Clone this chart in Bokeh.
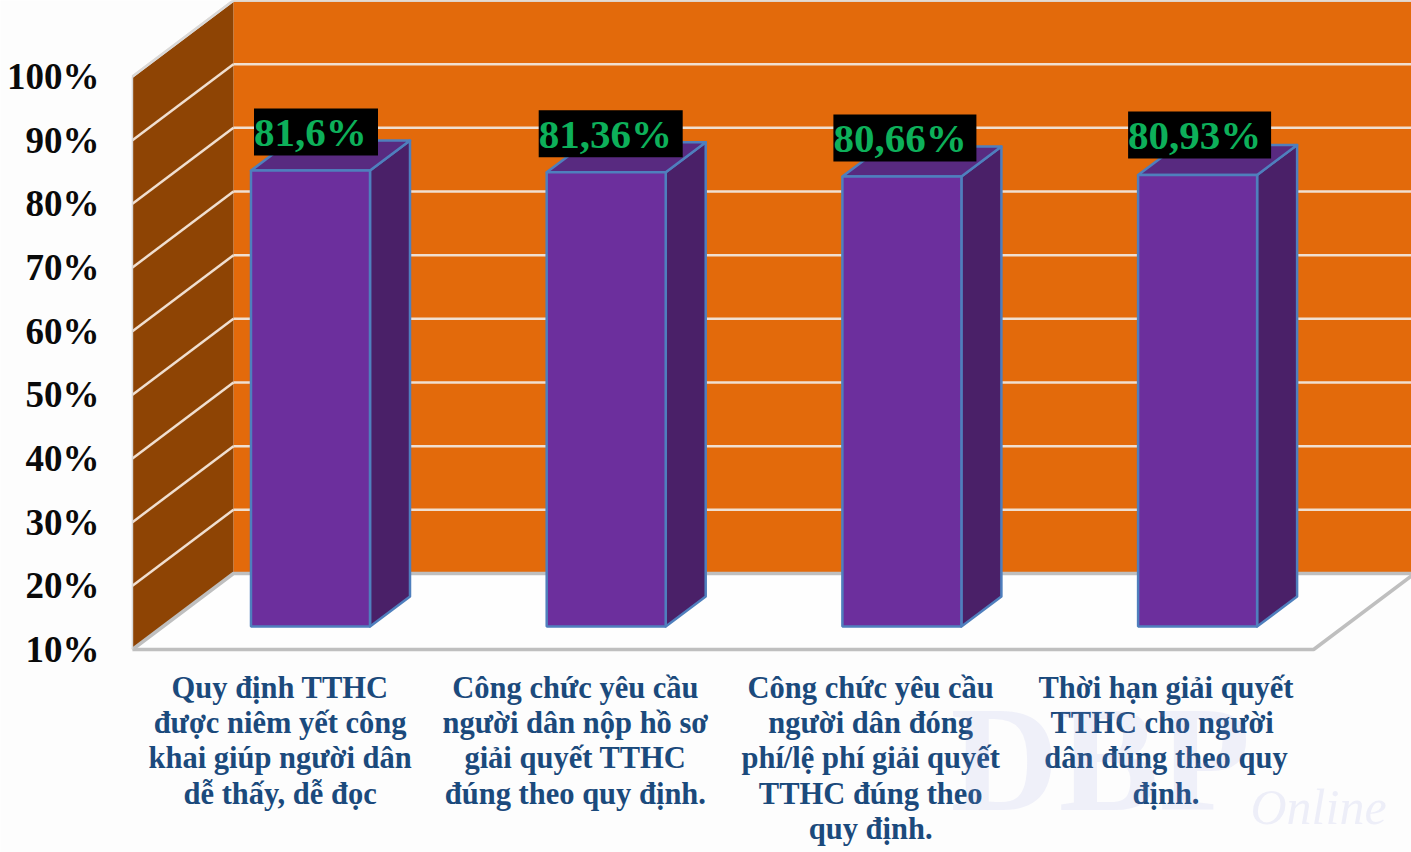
from bokeh.plotting import figure
from bokeh.models import FixedTicker, PrintfTickFormatter, Range1d
from bokeh.core.properties import value
from bokeh.embed import file_html
from bokeh.resources import INLINE

# ---- data
categories = [
    "Quy định TTHC\nđược niêm yết công\nkhai giúp người dân\ndễ thấy, dễ đọc",
    "Công chức yêu cầu\nngười dân nộp hồ sơ\ngiải quyết TTHC\nđúng theo quy định.",
    "Công chức yêu cầu\nngười dân đóng\nphí/lệ phí giải quyết\nTTHC đúng theo\nquy định.",
    "Thời hạn giải quyết\nTTHC  cho người\ndân đúng theo quy\nđịnh.",
]
values = [81.6, 81.36, 80.66, 80.93]
value_labels = ["81,6%", "81,36%", "80,66%", "80,93%"]
y_ticks = [10, 20, 30, 40, 50, 60, 70, 80, 90, 100]

# ---- layout (pixels of the picture)
W, H = 1411, 852
AXIS_L, AXIS_B = 104, 655
PX_PER_CAT = 295.3
CAT0_PX = 279.6
PX_PER_PCT = 6.367
Y10_PX = 649

def xd(px):
    return (px - CAT0_PX) / PX_PER_CAT

def yd(px):
    return 10 + (Y10_PX - px) / PX_PER_PCT

dx_wall = 101 / PX_PER_CAT
dy_wall = 76 / PX_PER_PCT
dy_bar = 23 / PX_PER_PCT
dx_side = 40 / PX_PER_CAT
dy_side = 30 / PX_PER_PCT
bar_half = 59.5 / PX_PER_CAT
bar_shift = 30.4 / PX_PER_CAT
bar_step = 0.4 / PX_PER_CAT
n = len(categories)
x_left = -0.5
x_right = n - 0.5

SERIF = "Liberation Serif"

p = figure(output_backend="svg", toolbar_location=None,
           frame_width=W, frame_height=H,
           x_range=Range1d(xd(0), xd(W)), y_range=Range1d(yd(H), yd(0)),
           min_border_left=0, min_border_right=0, min_border_top=0,
           min_border_bottom=0, margin=(0, 0, 0, 0),
           background_fill_color="#fdfdfd", border_fill_color="#fdfdfd",
           outline_line_color=None)
p.grid.visible = False

# walls and floor
top = 100 + dy_wall - 0.0
xb = x_left + dx_wall
p.quad(left=xb, right=xd(W) + 0.01, bottom=10 + dy_wall, top=top,
       fill_color="#E36A0B", line_color=None)
p.patch([x_left, xb, xb, x_left], [10, 10 + dy_wall, top, 100],
        fill_color="#8E4404", line_color=None)
p.patch([x_left, xb, x_right + dx_wall, x_right], [10, 10 + dy_wall, 10 + dy_wall, 10],
        fill_color="#FEFEFE", line_color=None)

# grid
grid_t = [t for t in y_ticks if t > 10]
p.segment([xb] * len(grid_t), [t + dy_wall for t in grid_t],
          [xd(W) + 0.01] * len(grid_t), [t + dy_wall for t in grid_t],
          line_color="#F0DFD0", line_width=2.5)
p.segment([x_left] * len(grid_t), grid_t, [xb] * len(grid_t), [t + dy_wall for t in grid_t],
          line_color="#F0DFD0", line_width=2.5)
# floor edges
edge = dict(line_color="#BFBFBF", line_width=3.5)
p.line([x_left, x_right, x_right + dx_wall], [10, 10, 10 + dy_wall], **edge)
p.line([x_left, xb, xd(W) + 0.01], [10, 10 + dy_wall, 10 + dy_wall], **edge)
p.line([x_left, x_left], [10, 100], line_color="#D9D9D9", line_width=1.5)
p.line([x_left, xb, xd(W) + 0.01], [100, top, top], line_color="#D9D9D9", line_width=2.5)

# bars
blue = "#4F7FBD"
for i, v in enumerate(values):
    c = i + bar_shift + bar_step * i
    l, r = c - bar_half, c + bar_half
    b0 = 10 + dy_bar
    t0 = v + dy_bar
    p.patch([r, r + dx_side, r + dx_side, r],
            [b0, b0 + dy_side, t0 + dy_side, t0],
            fill_color="#4A2068", line_color=blue, line_width=2.5, line_join="round")
    p.patch([l, r, r + dx_side, l + dx_side],
            [t0, t0, t0 + dy_side, t0 + dy_side],
            fill_color="#582A80", line_color=blue, line_width=2.5, line_join="round")
    p.quad(left=l, right=r, bottom=b0, top=t0,
           fill_color="#6C2F9D", line_color=blue, line_width=2.5)

# value labels on black boxes
box_dx = [3, -8, -9, -10]
box_w = [124, 144, 143, 143]
box_up = [15, 15, 15, 16.5]
for i, v in enumerate(values):
    c = i + bar_shift + bar_step * i
    l = c - bar_half + box_dx[i] / PX_PER_CAT
    r = l + box_w[i] / PX_PER_CAT
    b = v + dy_bar + box_up[i] / PX_PER_PCT
    t = b + 47 / PX_PER_PCT
    p.quad(left=l, right=r, bottom=b, top=t, fill_color="#000000", line_color=None)
    p.text(x=[l], y=[(b + t) / 2], text=[value_labels[i]], text_color="#0DB05A",
           text_font=value(SERIF), text_font_style="bold", text_font_size="41px",
           text_align="left", text_baseline="middle")

# axes, held at fixed places inside the full-canvas frame
ya = p.yaxis[0]
ya.fixed_location = xd(AXIS_L)
ya.ticker = FixedTicker(ticks=y_ticks)
ya.formatter = PrintfTickFormatter(format="%d%%")
ya.axis_line_color = None
ya.major_tick_line_color = None
ya.minor_tick_line_color = None
ya.major_tick_out = 0
ya.major_tick_in = 0
ya.minor_tick_out = 0
ya.minor_tick_in = 0
ya.major_label_standoff = 5
ya.major_label_text_font = SERIF
ya.major_label_text_font_style = "bold"
ya.major_label_text_font_size = "37px"
ya.major_label_text_color = "#0A0A0A"

xa = p.xaxis[0]
xa.fixed_location = yd(AXIS_B)
xa.ticker = FixedTicker(ticks=list(range(n)))
xa.major_label_overrides = {i: c for i, c in enumerate(categories)}
xa.axis_line_color = None
xa.major_tick_line_color = None
xa.minor_tick_line_color = None
xa.major_tick_out = 0
xa.major_tick_in = 0
xa.minor_tick_out = 0
xa.minor_tick_in = 0
xa.major_label_standoff = 15
xa.major_label_text_font = SERIF
xa.major_label_text_font_style = "bold"
xa.major_label_text_font_size = "30.5px"
xa.major_label_text_line_height = 1.04
xa.major_label_text_color = "#1B4A7C"

# faint watermark
wm = "#8C98DC"
p.text(x=[xd(950)], y=[yd(758)], text=["DBP"], text_color=wm, text_alpha=0.12, level="overlay",
       text_font=value(SERIF), text_font_style="bold", text_font_size="150px",
       text_baseline="middle")
p.text(x=[xd(1250)], y=[yd(806)], text=["Online"], text_color=wm, text_alpha=0.14, level="overlay",
       text_font=value(SERIF), text_font_style="italic", text_font_size="50px",
       text_baseline="middle")

open("out.html", "w").write(file_html(p, INLINE))
